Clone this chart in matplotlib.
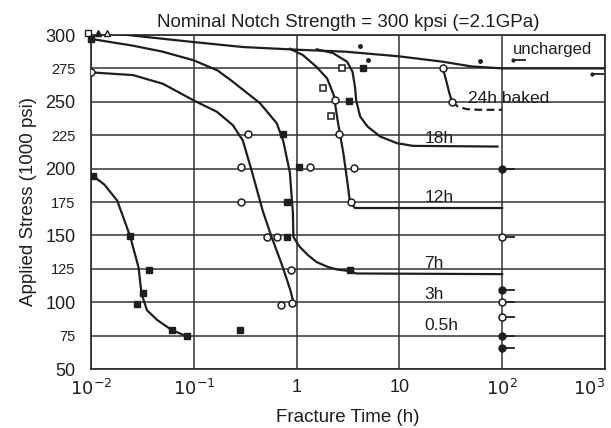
import matplotlib
matplotlib.use("Agg")
import matplotlib.pyplot as plt

plt.rcParams['font.family'] = ['Liberation Sans', 'DejaVu Sans']

# ---- curves (fracture time h, stress ksi) ----
uncharged_t = [0.0153, 0.03, 0.1, 0.3, 1.0, 3.0, 10, 26.5, 50, 100, 1000]
uncharged_s = [301.5, 299, 294.7, 291, 289, 287.5, 284, 280, 276.5, 275, 275]

baked_t = [26.5, 28.5, 30.5, 32.5]
baked_s = [275, 266, 257, 250]
baked_dash_t = [32.5, 37, 45, 60, 100]
baked_dash_s = [250, 246.5, 244.5, 244, 244]

h18_t = [1.57, 2.25, 3.1, 3.5, 3.7, 3.8, 4.15, 4.9, 6.5, 9.5, 13.6, 90]
h18_s = [289.3, 286.5, 280, 272.5, 261, 251, 239, 231.5, 224, 219, 217, 216.5]

h12_t = [0.86, 1.15, 1.57, 1.98, 2.3, 2.5, 2.85, 3.1, 3.3, 3.7, 100]
h12_s = [289.7, 285, 276, 267.5, 255, 236.5, 211.5, 191.5, 175, 170.5, 170.5]

h7_t = [0.0101, 0.0256, 0.05, 0.1, 0.17, 0.24, 0.44, 0.64, 0.74, 0.86, 0.92,
        0.93, 1.0, 1.07, 1.3, 1.57, 2.0, 2.45, 3.3, 3.8, 100]
h7_s = [297, 292, 287.5, 281, 273.5, 265, 249, 234, 221, 197, 167,
        149, 145, 141.5, 135, 130, 126.5, 124.5, 123.3, 121.5, 121]

h3_t = [0.0101, 0.0256, 0.05, 0.1, 0.168, 0.24, 0.30, 0.37, 0.47, 0.57, 0.72,
        0.87, 0.93]
h3_s = [272, 270, 263.5, 251, 242.5, 232.5, 221, 197, 168, 149, 128,
        109, 100]

h05_t = [0.0105, 0.0135, 0.018, 0.024, 0.029, 0.031, 0.035, 0.044, 0.061, 0.085]
h05_s = [194.5, 188, 176, 149.5, 126, 106.6, 94, 86.7, 79.2, 74.5]

# ---- data points ----
open_c_t = [0.0101, 0.34, 0.29, 0.29, 0.52, 0.64, 0.88, 0.70, 0.90, 1.36,
            2.35, 2.6, 3.6, 3.4, 26.5, 32.5]
open_c_s = [272, 226, 201, 175, 149, 149, 124, 98, 99.5, 201,
            251, 226, 200.5, 175, 275, 250]
open_sq_t = [2.76, 1.8, 2.15]
open_sq_s = [275.5, 260, 239]
fill_t = [0.0105, 0.024, 0.037, 0.032, 0.028, 0.061, 0.085, 0.28,
          0.74, 1.06, 0.81, 0.81, 3.3, 4.4, 3.2]
fill_s = [194.5, 149.5, 124, 107, 99, 79.2, 74.5, 79,
          226, 201, 175, 149, 124, 275, 250.5]
plus_t = [4.1, 4.9, 61]
plus_s = [292, 281.5, 280.5]

# top-left specimens at the nominal strength
top_t = [0.0093, 0.0117, 0.0143, 0.0101]
top_s = [301.5, 301.5, 301.5, 297]

# run-outs at 100 h and beyond (marker + arrow)
run_open_t = [100, 100, 100]
run_open_s = [149, 100, 89]
run_fill_t = [100, 100, 100, 100]
run_fill_s = [200, 109, 75, 66]
run_dot_t = [127, 740]
run_dot_s = [281, 271]

labels = ['uncharged', '24h baked', '18h', '12h', '7h', '3h', '0.5h']
label_t = [128, 47, 17.5, 17.5, 17.5, 17.5, 17.5]
label_s = [289.5, 252.6, 222.8, 178.7, 129, 105.4, 82.2]

yticks = [50, 75, 100, 125, 150, 175, 200, 225, 250, 275, 300]

fig = plt.figure(figsize=(6.11, 4.28), dpi=100)
ax = fig.add_axes([91/611, 1-369/428, 514/611, 334/428])
ax.set_xscale('log')
ax.set_xlim(0.01, 1000)
ax.set_ylim(50, 300)

ink = '#1e1e1e'
lw = 1.6
for t, s in [(uncharged_t, uncharged_s), (baked_t, baked_s), (h18_t, h18_s),
             (h12_t, h12_s), (h7_t, h7_s), (h3_t, h3_s), (h05_t, h05_s)]:
    ax.plot(t, s, color=ink, lw=lw, zorder=3, solid_joinstyle='round')
ax.plot(baked_dash_t, baked_dash_s, color=ink, lw=lw, ls=(0, (3.5, 2)), zorder=3)

ax.plot(open_c_t, open_c_s, 'o', ms=5, mfc='white', mec=ink, mew=1.1, zorder=4)
ax.plot(open_sq_t, open_sq_s, 's', ms=4.5, mfc='white', mec=ink, mew=1.1, zorder=4)
ax.plot(fill_t, fill_s, 's', ms=4.8, color=ink, zorder=4)
ax.plot(plus_t, plus_s, '.', ms=5, color=ink, zorder=4)

ax.plot(top_t[0], top_s[0], 's', ms=4.5, mfc='white', mec=ink, mew=1, clip_on=False, zorder=5)
ax.plot(top_t[1], top_s[1], '^', ms=4, color=ink, clip_on=False, zorder=5)
ax.plot(top_t[2], top_s[2], '^', ms=4, mfc='white', mec=ink, mew=1, clip_on=False, zorder=5)
ax.plot(top_t[3], top_s[3], 's', ms=5, color=ink, clip_on=False, zorder=5)

for t, s in zip(run_open_t + run_fill_t + run_dot_t, run_open_s + run_fill_s + run_dot_s):
    ax.plot([t * 1.08, t * 1.3], [s, s], color=ink, lw=1.3, zorder=3)
ax.plot(run_open_t, run_open_s, 'o', ms=5, mfc='white', mec=ink, mew=1.1, zorder=4)
ax.plot(run_fill_t, run_fill_s, 'o', ms=5, color=ink, zorder=4)
ax.plot(run_dot_t, run_dot_s, '.', ms=4, color=ink, zorder=4)

for lab, t, s in zip(labels, label_t, label_s):
    ax.text(t, s, lab, fontsize=12.5 if lab != 'uncharged' else 12, color=ink,
            ha='left', va='center', zorder=6)

ax.set_xticks([0.01, 0.1, 1, 10, 100, 1000])
ax.set_xticklabels([r'$10^{-2}$', r'$10^{-1}$', '1', '10', r'$10^{2}$', r'$10^{3}$'])
ax.minorticks_off()
ax.set_yticks(yticks)
ax.set_yticklabels([str(v) for v in yticks])
for v, lab in zip(yticks, ax.get_yticklabels()):
    lab.set_fontsize(13 if v % 50 == 0 else 10.5)
for lab in ax.get_xticklabels():
    lab.set_fontsize(13)
ax.get_xticklabels()[-1].set_horizontalalignment('right')
ax.get_xticklabels()[-1].set_x(1000)
ax.tick_params(axis='y', length=0, pad=11, colors=ink)
ax.tick_params(axis='x', length=0, pad=7, colors=ink)

ax.grid(True, color='#333333', lw=1.1)
ax.set_axisbelow(True)
for sp in ax.spines.values():
    sp.set_color('#333333')
    sp.set_linewidth(1.3)

ax.set_title('Nominal Notch Strength = 300 kpsi (=2.1GPa)', fontsize=13.5, color=ink, pad=6)
ax.set_xlabel('Fracture Time (h)', fontsize=13.5, color=ink, labelpad=7)
ax.set_ylabel('Applied Stress (1000 psi)', fontsize=13.5, color=ink, labelpad=6)

fig.savefig('out.png', dpi=100)
